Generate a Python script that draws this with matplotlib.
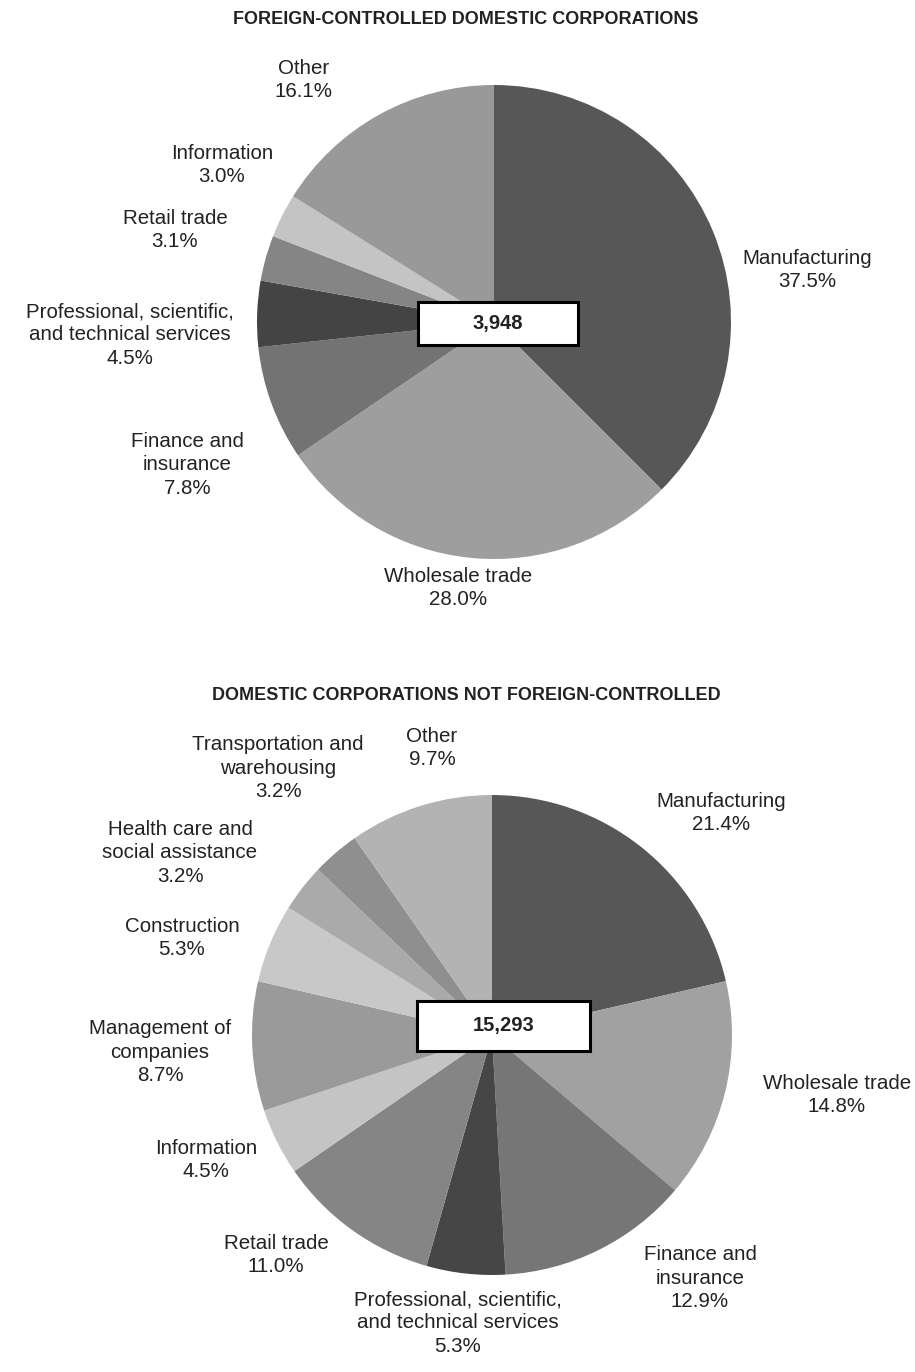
import matplotlib
matplotlib.use("Agg")
import matplotlib.pyplot as plt
from matplotlib.patches import Rectangle

plt.rcParams['font.family'] = ['Liberation Sans', 'DejaVu Sans']

# data: top chart
fc_labels = ["Manufacturing", "Wholesale trade", "Finance and\ninsurance",
             "Professional, scientific,\nand technical services",
             "Retail trade", "Information", "Other"]
fc_shares = [37.5, 28.0, 7.8, 4.5, 3.1, 3.0, 16.1]
fc_colors = ["#575757", "#9d9e9d", "#737373", "#444444", "#858585", "#c4c4c4", "#999999"]
fc_total = "3,948"

# data: bottom chart
dc_labels = ["Manufacturing", "Wholesale trade", "Finance and\ninsurance",
             "Professional, scientific,\nand technical services",
             "Retail trade", "Information", "Management of\ncompanies",
             "Construction", "Health care and\nsocial assistance",
             "Transportation and\nwarehousing", "Other"]
dc_shares = [21.4, 14.8, 12.9, 5.3, 11.0, 4.5, 8.7, 5.3, 3.2, 3.2, 9.7]
dc_colors = ["#575757", "#a0a1a0", "#767676", "#464646", "#858585", "#c4c4c4",
             "#9a9a9a", "#c8c8c8", "#a9aaa9", "#8f8f8f", "#b3b3b3"]
dc_total = "15,293"

# layout in pixels (y measured from top)
W, H = 915, 1372
fc_label_pos = [(807, 270), (458, 588), (187, 465), (130, 335), (175, 230), (222, 165), (304, 80)]
dc_label_pos = [(721, 813), (837, 1095), (700, 1278), (458, 1323), (276, 1255), (206, 1160),
                (160, 1052), (182, 938), (180, 853), (278, 768), (432, 748)]

fig = plt.figure(figsize=(W / 100, H / 100), dpi=100)
ax = fig.add_axes([0, 0, 1, 1])


def draw(shares, colors, labels, label_pos, center, radius, title, title_pos, total, box):
    cx, cy = center
    ax.pie(shares, colors=colors, startangle=90, counterclock=False,
           center=(cx, H - cy), radius=radius,
           wedgeprops=dict(linewidth=0))
    for lab, pct, (x, y) in zip(labels, shares, label_pos):
        ax.text(x, H - y, f"{lab}\n{pct:.1f}%", ha="center", va="center",
                fontsize=14.8, color="#222222", linespacing=1.3)
    ax.text(title_pos[0], H - title_pos[1], title, ha="center", va="center",
            fontsize=13, fontweight="bold", color="#222222")
    x0, y0, x1, y1 = box
    ax.add_patch(Rectangle((x0, H - y1), x1 - x0, y1 - y0, facecolor="white",
                           edgecolor="black", linewidth=2.2, zorder=5))
    ax.text((x0 + x1) / 2, H - (y0 + y1) / 2, total, ha="center", va="center",
            fontsize=14.5, fontweight="bold", color="#222222", zorder=6)


draw(fc_shares, fc_colors, fc_labels, fc_label_pos, (494, 322), 237,
     "FOREIGN-CONTROLLED DOMESTIC CORPORATIONS", (466, 19), fc_total, (418, 302, 578, 345))
draw(dc_shares, dc_colors, dc_labels, dc_label_pos, (492, 1035), 240,
     "DOMESTIC CORPORATIONS NOT FOREIGN-CONTROLLED", (466, 695), dc_total, (417, 1001, 590, 1051))

ax.set_xlim(0, W)
ax.set_ylim(0, H)
ax.set_aspect("equal")
ax.axis("off")

fig.savefig("out.png", dpi=100, facecolor="white")
